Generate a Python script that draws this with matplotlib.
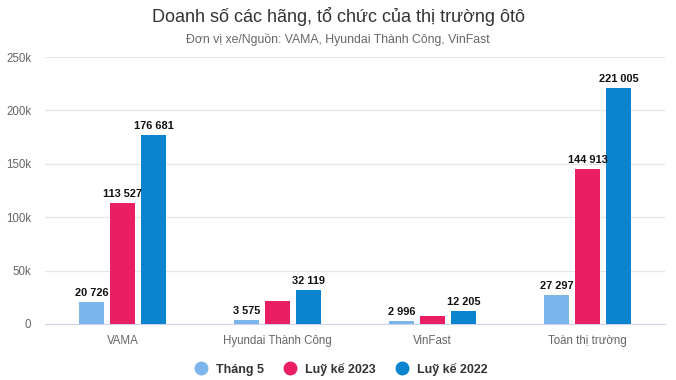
import numpy as np
import matplotlib.pyplot as plt
from matplotlib.ticker import FuncFormatter
from matplotlib.lines import Line2D

plt.rcParams['font.family'] = ['Liberation Sans', 'DejaVu Sans']

categories = ['VAMA', 'Hyundai Thành Công', 'VinFast', 'Toàn thị trường']
series_names = ['Tháng 5', 'Luỹ kế 2023', 'Luỹ kế 2022']
thang5 = [20726, 3575, 2996, 27297]
luyke2023 = [113527, 21900, 7800, 144913]
luyke2022 = [176681, 32119, 12205, 221005]
# labels shown in the chart (None = no label)
labels2023 = ['113 527', None, None, '144 913']
colors = ['#7cb5ec', '#e91e63', '#0a84cf']

fig = plt.figure(figsize=(6.76, 3.8), dpi=100)
ax = fig.add_axes([45 / 676, 1 - 324 / 380, 620 / 676, 267 / 380])

x = np.arange(len(categories))
w = 0.155
pitch = 0.2
data = [thang5, luyke2023, luyke2022]
for i, vals in enumerate(data):
    xs = x + (i - 1) * pitch
    ax.bar(xs, vals, width=w, color=colors[i], zorder=3)
    for j, v in enumerate(vals):
        if i == 1:
            txt = labels2023[j]
        else:
            txt = f'{v:,}'.replace(',', ' ')
        if txt:
            ax.annotate(txt, (xs[j], v), xytext=(0, 3), textcoords='offset points',
                        ha='center', va='bottom', fontsize=7.9, fontweight='bold',
                        color='#111111', zorder=4)

ax.set_xlim(-0.5, 3.5)
ax.set_ylim(0, 250000)
ax.set_yticks(np.arange(0, 250001, 50000))
ax.yaxis.set_major_formatter(FuncFormatter(lambda v, p: '0' if v == 0 else f'{int(v / 1000)}k'))
ax.set_xticks(x)
ax.set_xticklabels(categories)
ax.grid(axis='y', color='#e6e6e6', linewidth=0.9, zorder=0)
for s in ['top', 'right', 'left']:
    ax.spines[s].set_visible(False)
ax.spines['bottom'].set_color('#ccd6eb')
ax.tick_params(axis='both', length=0, labelsize=8.3, labelcolor='#666666')
ax.tick_params(axis='x', pad=8)
ax.tick_params(axis='y', pad=10)

fig.text(0.5, 1 - 17 / 380, 'Doanh số các hãng, tổ chức của thị trường ôtô',
         ha='center', va='center', fontsize=13, color='#333333')
fig.text(0.5, 1 - 39 / 380, 'Đơn vị xe/Nguồn: VAMA, Hyundai Thành Công, VinFast',
         ha='center', va='center', fontsize=8.8, color='#666666')

handles = [Line2D([], [], marker='o', linestyle='', markersize=9, color=c) for c in colors]
fig.legend(handles, series_names, loc='center', bbox_to_anchor=(0.5, 1 - 369 / 380),
           ncol=3, frameon=False, prop={'weight': 'bold', 'size': 9},
           labelcolor='#333333', handletextpad=0.2, columnspacing=1.1)

fig.savefig('out.png', dpi=100)
